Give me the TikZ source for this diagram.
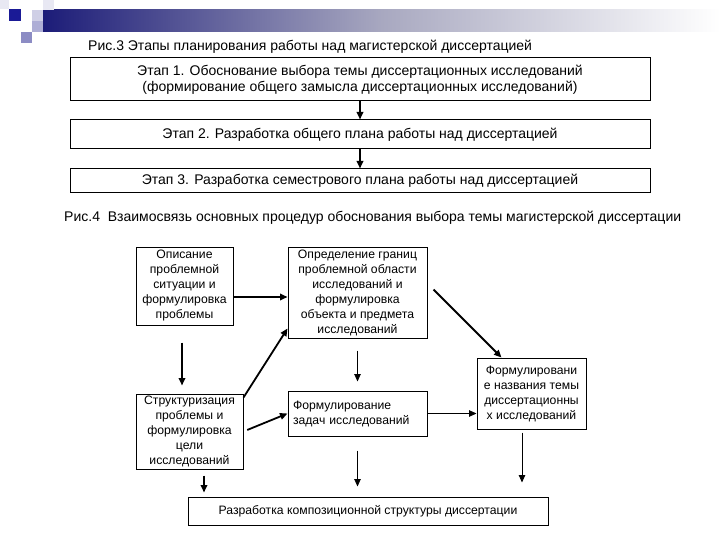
\documentclass[tikz,border=0pt]{standalone}
\usepackage{fontspec}
\setmainfont{Liberation Sans}
\usetikzlibrary{arrows.meta,calc}
\definecolor{barnavy}{HTML}{1C1C78}
\definecolor{bargrey}{HTML}{A8A8C0}
\definecolor{sqdark}{HTML}{1A1A96}
\definecolor{sqmid}{HTML}{8C8CC4}
\definecolor{sqlight}{HTML}{CFCFE6}
\definecolor{sqpale}{HTML}{E8E8F3}
\tikzset{
  box/.style={draw=black, line width=1pt, inner sep=2pt, align=center,
              font=\fontsize{12.2}{15}\selectfont},
  stage/.style={box, minimum width=580pt, font=\fontsize{14}{16}\selectfont},
  caption/.style={font=\fontsize{14}{16}\selectfont, inner sep=0pt, anchor=base west},
  arr/.style={-{Triangle[length=7.5pt,width=6.5pt]}, line width=1.8pt},
  tarr/.style={-{Triangle[length=7.5pt,width=6.5pt]}, line width=0.9pt},
}

\begin{document}
\begin{tikzpicture}[x=1pt,y=-1pt]
  \useasboundingbox (0,0) rectangle (720,540);

  % slide template corner
  \shade[left color=barnavy, right color=white, middle color=bargrey] (43,10) rectangle (720,32);
  \fill[sqpale] (0,0) rectangle (9,9);
  \fill[sqpale] (43,0) rectangle (54,10);
  \fill[sqlight] (32,10) rectangle (43,21);
  \fill[sqmid!70] (32,21) rectangle (43,32);
  \fill[sqmid] (21,32) rectangle (32,43);
  \fill[sqdark] (9,9) rectangle (21,21);

  % Fig. 3: stages
  \node[caption] (cap3) at (88,51) {Рис.3 Этапы планирования работы над магистерской диссертацией};
  \node[stage, minimum height=43pt] (stage1) at (360,79.5)
        {Этап 1. Обоснование выбора темы диссертационных исследований\\(формирование общего замысла диссертационных исследований)};
  \node[stage, minimum height=29pt] (stage2) at (360,134.5)
        {Этап 2. Разработка общего плана работы над диссертацией};
  \node[stage, minimum height=24pt] (stage3) at (360,181)
        {Этап 3. Разработка семестрового плана работы над диссертацией};
  \draw[arr] (stage1) -- (stage2);
  \draw[arr] (stage2) -- (stage3);

  % Fig. 4: procedures
  \node[caption] (cap4) at (64,222) {Рис.4\ \ Взаимосвязь основных процедур обоснования выбора темы магистерской диссертации};
  \node[box, minimum width=97pt, minimum height=78pt] (problem) at (184.5,286)
        {Описание\\проблемной\\ситуации и\\формулировка\\проблемы};
  \node[box, minimum width=139pt, minimum height=91pt] (bounds) at (357.5,292.5)
        {Определение границ\\проблемной области\\исследований и\\формулировка\\объекта и предмета\\исследований};
  \node[box, minimum width=107pt, minimum height=75pt] (goal) at (189.5,431.5)
        {Структуризация\\проблемы и\\формулировка\\цели\\исследований};
  \node[box, minimum width=139pt, minimum height=45pt, text width=129pt, align=left] (tasks) at (357.5,413.5)
        {Формулирование\\задач исследований};
  \node[box, minimum width=109pt, minimum height=71pt] (title) at (531.5,393.5)
        {Формулировани\\е названия темы\\диссертационны\\х исследований};
  \node[box, minimum width=360pt, minimum height=28pt] (layout) at (368,511)
        {Разработка композиционной структуры диссертации};

  \draw[arr] ([yshift=-11pt]problem.east) -- ([yshift=-4.5pt]bounds.west);
  \draw[arr, shorten <=17pt, shorten >=8pt] ([xshift=-2.5pt]problem.south) -- ([xshift=-2.5pt]problem.south |- goal.north);
  \draw[arr] ([yshift=-4pt]goal.north east) -- ([yshift=10pt]bounds.south west);
  \draw[arr, shorten <=4pt] (goal.east) -- (tasks.west);
  \draw[arr] ([xshift=6pt,yshift=3pt]bounds.east) -- ([xshift=25pt]title.north west);
  \draw[tarr, shorten <=12pt, shorten >=9pt] (bounds.south) -- (tasks.north);
  \draw[tarr] (tasks.east) -- (tasks.east -| title.west);
  \draw[arr, shorten <=6pt, shorten >=4pt] ([xshift=14.5pt]goal.south) -- ([xshift=14.5pt]goal.south |- layout.north);
  \draw[tarr, shorten <=14pt, shorten >=10pt] (tasks.south) -- (tasks.south |- layout.north);
  \draw[tarr, shorten <=3pt, shorten >=14pt] ([xshift=-9.5pt]title.south) -- ([xshift=-9.5pt]title.south |- layout.north);
\end{tikzpicture}
\end{document}
